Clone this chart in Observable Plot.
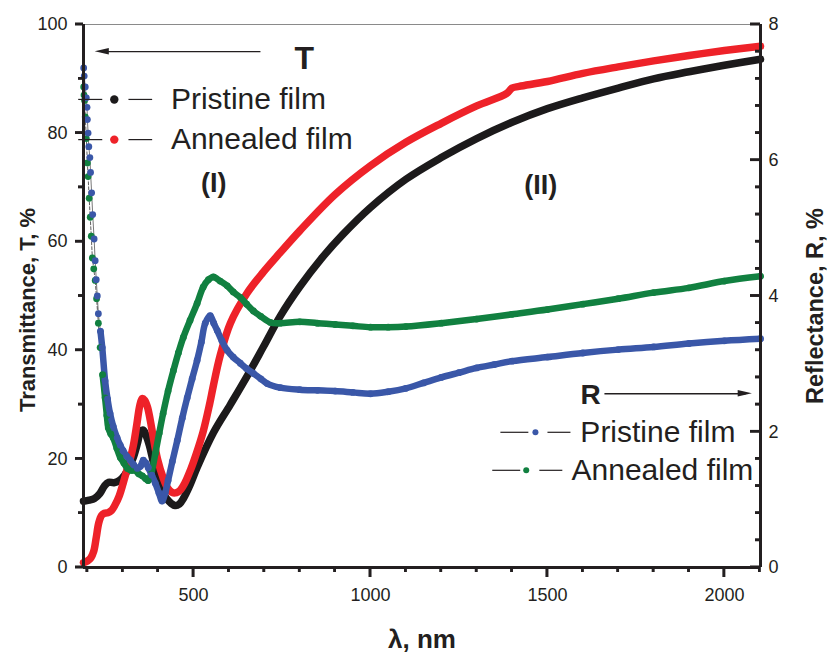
<!DOCTYPE html>
<html><head><meta charset="utf-8">
<script src="https://cdn.jsdelivr.net/npm/d3@7"></script>
<script src="https://cdn.jsdelivr.net/npm/@observablehq/plot@0.6"></script>
<style>
body{margin:0;background:#fff;}
#chart svg{font-family:"Liberation Sans",Arial,Helvetica,sans-serif;}
</style></head><body><div id="chart"></div>
<script>
// ---- Data ----
// Transmittance, pristine film (black)
const tPristineNm = [189,205,220,235,248,260,275,290,305,318,330,342,350,358,366,375,385,400,412,425,437,448,460,472,490,510,556,604,651,697,745,800,860,920,1000,1100,1200,1300,1400,1500,1600,1700,1800,1900,2000,2102];
const tPristine   = [12.2,12.4,12.7,13.6,15.0,15.7,15.6,16.0,17.0,18.5,20.3,23.0,25.0,25.3,24.3,22.5,19.8,16.0,13.8,12.6,11.8,11.4,11.7,12.8,15.2,18.4,24.8,30.0,35.2,40.6,46.3,51.7,56.8,61.2,66.3,71.5,75.5,79.0,82.0,84.5,86.5,88.3,90.0,91.3,92.5,93.6];
// Transmittance, annealed film (red)
const tAnnealedNm = [189,200,210,218,225,232,240,248,258,268,278,290,301,312,321,330,340,348,355,362,370,378,386,398,414,427,440,452,462,475,491,508,527,545,556,575,604,651,697,745,800,900,1000,1100,1200,1300,1385,1400,1420,1500,1600,1700,1800,1900,2000,2102];
const tAnnealed   = [0.9,1.2,1.8,3.0,5.5,8.2,9.6,10.0,10.1,10.5,11.5,13.2,15.5,18.0,20.0,22.5,26.5,29.8,31.1,30.8,29.5,27.0,24.0,20.0,16.5,14.6,13.8,13.8,14.2,15.5,17.9,21.0,25.0,30.0,33.5,39.0,45.0,50.5,54.4,58.0,62.0,68.7,74.0,78.3,81.8,85.0,87.3,88.3,88.6,89.5,91.0,92.2,93.3,94.3,95.2,96.0];
// Reflectance, pristine film (blue), R %
const rPristineNm = [189.5,191,194,197,199,200,202,204,207,209,212,215,219,222,225,228,231,237,242,250,257,264,273,284,293,301,311,321,331,341,350,358,365,372,382,392,402,411,420,428,440,454,468,482,496,510,522,533,547,557,567,580,595,612,632,650,669,690,708,745,800,850,900,950,1000,1050,1100,1150,1200,1250,1300,1350,1400,1500,1600,1700,1800,1900,2000,2102];
const rPristine   = [7.36,7.24,7.08,6.92,6.78,6.60,6.40,6.20,6.04,5.82,5.52,5.20,4.84,4.52,4.24,4.00,3.74,3.48,3.24,2.75,2.48,2.27,2.08,1.91,1.80,1.72,1.64,1.58,1.51,1.46,1.49,1.58,1.54,1.47,1.36,1.24,1.10,0.98,1.10,1.28,1.56,1.87,2.20,2.50,2.78,3.05,3.32,3.60,3.71,3.60,3.49,3.34,3.20,3.10,3.01,2.93,2.86,2.78,2.71,2.65,2.62,2.61,2.60,2.58,2.56,2.59,2.64,2.72,2.80,2.87,2.94,2.99,3.04,3.10,3.16,3.21,3.25,3.30,3.34,3.37];
// Reflectance, annealed film (green), R %
const rAnnealedNm = [189.5,190.5,192,194,197,200,202,205,208,211,214,218,222,226,231,236,243,250,255,259,266,273,283,293,303,313,324,335,345,355,364,372,382,392,403,414,428,443,457,471,490,510,527,542,556,575,595,612,632,650,669,690,717,745,800,850,900,950,1000,1050,1100,1200,1300,1400,1500,1600,1700,1800,1900,2000,2102];
const rAnnealed   = [7.08,6.96,6.88,6.64,6.32,5.96,5.76,5.44,5.16,4.88,4.56,4.40,4.23,3.96,3.60,3.24,2.84,2.50,2.24,2.06,1.97,1.91,1.76,1.62,1.54,1.46,1.43,1.43,1.38,1.35,1.31,1.28,1.42,1.68,1.98,2.27,2.60,2.90,3.16,3.39,3.64,3.89,4.13,4.24,4.28,4.22,4.15,4.06,3.98,3.88,3.78,3.70,3.61,3.60,3.62,3.60,3.58,3.56,3.54,3.54,3.55,3.60,3.66,3.73,3.80,3.88,3.96,4.05,4.12,4.22,4.29];

// ---- Axes ticks ----
const xMajor = [500, 1000, 1500, 2000];
const xMinor = [200,300,400,600,700,800,900,1100,1200,1300,1400,1600,1700,1800,1900,2100];
const yMajor = [0, 20, 40, 60, 80, 100];
const yMinor = [10, 30, 50, 70, 90];
const rMajor = [0, 2, 4, 6, 8];
const rMinor = [0.4,0.8,1.2,1.6,2.4,2.8,3.2,3.6,4.4,4.8,5.2,5.6,6.4,6.8,7.2,7.6];

const W = 828, H = 655, M = {left: 83, right: 68, top: 24, bottom: 88};
const xDomain = [189, 2102];
const yDomain = [0, 100];
const R_TO_T = 100 / 8; // right axis 0–8 % spans the left 0–100 %
const xPx = (xDomain[1] - xDomain[0]) / (W - M.left - M.right);
const yPx = (yDomain[1] - yDomain[0]) / (H - M.top - M.bottom);

const toRows = (xs, ys, k = 1) => xs.map((x, i) => ({x, y: ys[i] * k}));
const black = toRows(tPristineNm, tPristine);
const red = toRows(tAnnealedNm, tAnnealed);
const blue = toRows(rPristineNm, rPristine, R_TO_T);
const green = toRows(rAnnealedNm, rAnnealed, R_TO_T);

const C = {black:"#1c1a1b", red:"#ee2229", blue:"#3a57a8", green:"#118040", ink:"#231f20"};
const lblFont = 30;

const tLegend = [{y:86.2, c:C.black, t:"Pristine film"}, {y:78.8, c:C.red, t:"Annealed film"}];
const rLegend = [{y:24.9, c:C.blue, t:"Pristine film", a1:1367, a2:1446, d:1466, b1:1500, b2:1565, tx:1593},
                 {y:17.9, c:C.green, t:"Annealed film", a1:1344, a2:1423, d:1440, b1:1477, b2:1542, tx:1568}];

// tick marks as thin filled rectangles (data units derived from pixel sizes)
const tw = 1.3; // half tick thickness, px
const xTickRects = (vals, len) => vals.map(v => ({x1: v - tw * xPx, x2: v + tw * xPx, y1: yDomain[0] - len * yPx, y2: yDomain[0]}));
const lTickRects = (vals, len) => vals.map(v => ({x1: xDomain[0] - len * xPx, x2: xDomain[0], y1: v - tw * yPx, y2: v + tw * yPx}));
const rTickRects = (vals, len) => vals.map(v => ({x1: xDomain[1] - len * xPx, x2: xDomain[1], y1: v * R_TO_T - tw * yPx, y2: v * R_TO_T + tw * yPx}));
const tickRects = [
  ...xTickRects(xMajor, 10), ...xTickRects(xMinor, 5),
  ...lTickRects(yMajor, 8), ...lTickRects(yMinor, 5),
  ...rTickRects(rMajor, 10), ...rTickRects(rMinor, 5)
];

const chart = Plot.plot({
  width: W, height: H,
  marginLeft: M.left, marginRight: M.right, marginTop: M.top, marginBottom: M.bottom,
  x: {domain: xDomain},
  y: {domain: yDomain},
  style: {fontFamily: "'Liberation Sans', Arial, Helvetica, sans-serif", fontSize: "18px", color: C.ink, overflow: "visible"},
  marks: [
    Plot.ruleY([100], {stroke: "#8a8a8a", strokeWidth: 1}),
    // curves
    Plot.line(black, {x:"x", y:"y", stroke:C.black, strokeWidth:7.5, curve:"catmull-rom"}),
    Plot.line(red, {x:"x", y:"y", stroke:C.red, strokeWidth:7.5, curve:"catmull-rom"}),
    Plot.line(green, {x:"x", y:"y", stroke:"#333", strokeWidth:0.8, strokeDasharray:"3,2"}),
    Plot.line(blue, {x:"x", y:"y", stroke:"#555", strokeWidth:0.8}),
    Plot.line(green.filter(d => d.x >= 240), {x:"x", y:"y", stroke:C.green, strokeWidth:6.5, curve:"catmull-rom"}),
    Plot.line(blue.filter(d => d.x >= 235), {x:"x", y:"y", stroke:C.blue, strokeWidth:6.5, curve:"catmull-rom"}),
    Plot.dot(green, {x:"x", y:"y", r:3.4, fill:C.green}),
    Plot.dot(blue, {x:"x", y:"y", r:3.4, fill:C.blue}),
    // axis labels
    Plot.axisX({ticks: xMajor, tickSize: 0, tickPadding: 21, tickFormat: d => String(d), fontSize: 18, label: null}),
    Plot.axisY({ticks: yMajor, tickSize: 0, tickPadding: 16, fontSize: 18, label: null}),
    Plot.axisY({anchor: "right", ticks: rMajor.map(v => v * R_TO_T), tickFormat: d => String(d / R_TO_T), tickSize: 0, tickPadding: 8, fontSize: 18, label: null}),
    // tick marks
    Plot.rect(tickRects, {x1: "x1", x2: "x2", y1: "y1", y2: "y2", fill: C.ink}),
    // axis lines
    Plot.ruleX([xDomain[0]], {stroke: C.ink, strokeWidth: 3}),
    Plot.ruleX([xDomain[1]], {stroke: C.ink, strokeWidth: 3}),
    Plot.ruleY([0], {stroke: C.ink, strokeWidth: 3, x1: xDomain[0], x2: xDomain[1]}),
    // axis titles
    Plot.text(["Transmittance, T, %"], {frameAnchor: "left", textAnchor: "middle", lineAnchor: "middle", rotate: -90, dx: -56, dy: 14, fontSize: 22, fontWeight: "bold", fill: C.ink}),
    Plot.text(["Reflectance, R, %"], {frameAnchor: "right", textAnchor: "middle", lineAnchor: "middle", rotate: -90, dx: 55, dy: 10, fontSize: 23.5, fontWeight: "bold", fill: C.ink}),
    Plot.text(["λ, nm"], {frameAnchor: "bottom", textAnchor: "middle", lineAnchor: "middle", dy: 72, fontSize: 26, fontWeight: "bold", fill: C.ink}),
    // T annotation
    Plot.link([{x1: 689, x2: 240, y: 95.0}], {x1:"x1", x2:"x2", y1:"y", y2:"y", stroke: C.ink, strokeWidth: 1.3}),
    Plot.areaY([{x: 222, y1: 95.0, y2: 95.0}, {x: 262, y1: 94.4, y2: 95.6}], {x:"x", y1:"y1", y2:"y2", fill: C.ink}),
    Plot.text(["T"], {x: 813, y: 93.7, fontSize: 32, fontWeight: "bold", fill: C.ink}),
    Plot.link(tLegend, {x1: 174, x2: 242, y1: "y", y2: "y", stroke: C.ink, strokeWidth: 1.2}),
    Plot.link(tLegend, {x1: 316, x2: 383, y1: "y", y2: "y", stroke: C.ink, strokeWidth: 1.2}),
    Plot.dot(tLegend, {x: 276, y: "y", r: 4.2, fill: "c"}),
    Plot.text(tLegend, {x: 436, y: "y", text: "t", textAnchor: "start", fontSize: lblFont, fill: C.ink}),
    // region labels
    Plot.text(["(I)"], {x: 557, y: 70.7, fontSize: 27, fontWeight: "bold", fill: C.ink}),
    Plot.text(["(II)"], {x: 1481, y: 70.3, fontSize: 27, fontWeight: "bold", fill: C.ink}),
    // R annotation
    Plot.text(["R"], {x: 1622, y: 31.7, fontSize: 28, fontWeight: "bold", fill: C.ink}),
    Plot.link([{x1: 1661, x2: 2060, y: 32.0}], {x1:"x1", x2:"x2", y1:"y", y2:"y", stroke: C.ink, strokeWidth: 1.3}),
    Plot.areaY([{x: 2039, y1: 31.4, y2: 32.6}, {x: 2079, y1: 32.0, y2: 32.0}], {x:"x", y1:"y1", y2:"y2", fill: C.ink}),
    Plot.link(rLegend, {x1: "a1", x2: "a2", y1: "y", y2: "y", stroke: C.ink, strokeWidth: 1.2}),
    Plot.link(rLegend, {x1: "b1", x2: "b2", y1: "y", y2: "y", stroke: C.ink, strokeWidth: 1.2}),
    Plot.dot(rLegend, {x: "d", y: "y", r: 3, fill: "c"}),
    Plot.text(rLegend, {x: "tx", y: "y", text: "t", textAnchor: "start", fontSize: lblFont, fill: C.ink})
  ]
});
document.getElementById("chart").append(chart);

// Fallback: the same tick marks appended through Plot's own scales (identical position/colour)
try {
  const sx = chart.scale("x"), sy = chart.scale("y");
  const g = d3.select(chart).append("g").attr("stroke", C.ink).attr("stroke-width", 2.6);
  const yb = sy.apply(yDomain[0]), xl = sx.apply(xDomain[0]), xr = sx.apply(xDomain[1]);
  const add = (x1, y1, x2, y2) => g.append("line").attr("x1", x1).attr("y1", y1).attr("x2", x2).attr("y2", y2);
  xMajor.forEach(v => add(sx.apply(v), yb, sx.apply(v), yb + 10));
  xMinor.forEach(v => add(sx.apply(v), yb, sx.apply(v), yb + 5));
  yMajor.forEach(v => add(xl - 8, sy.apply(v), xl, sy.apply(v)));
  yMinor.forEach(v => add(xl - 5, sy.apply(v), xl, sy.apply(v)));
  rMajor.forEach(v => add(xr - 10, sy.apply(v * R_TO_T), xr, sy.apply(v * R_TO_T)));
  rMinor.forEach(v => add(xr - 5, sy.apply(v * R_TO_T), xr, sy.apply(v * R_TO_T)));
} catch (e) {}
</script></body></html>
